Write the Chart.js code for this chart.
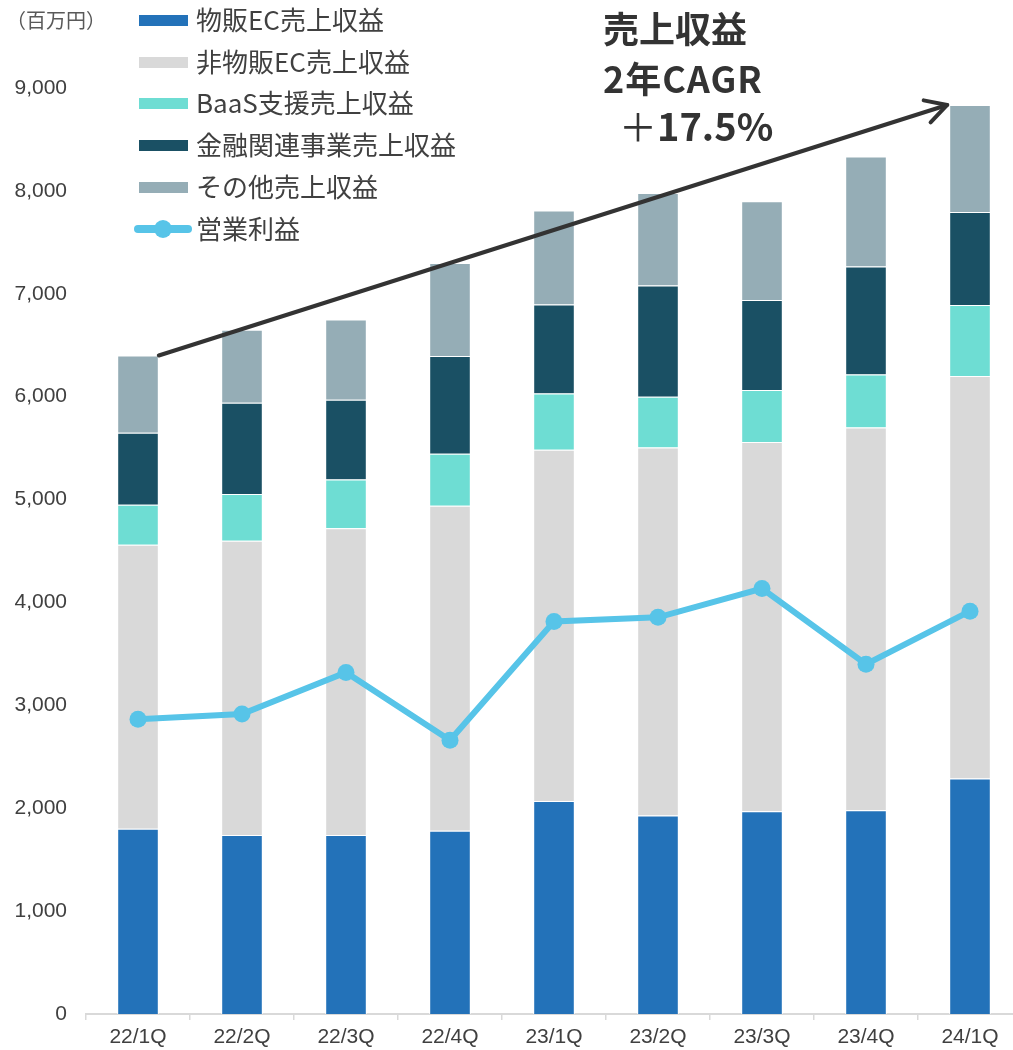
<!DOCTYPE html>
<html lang="ja">
<head>
    <meta charset="UTF-8">
    <title>売上収益・営業利益推移</title>
    <script src="https://cdn.jsdelivr.net/npm/chart.js"></script>
    <style>
        html, body {
            margin: 0;
            padding: 0;
            background: #ffffff;
            overflow: hidden;
        }

        .wrap {
            position: relative;
            width: 1013px;
            height: 1050px;
            overflow: hidden;
        }

        #salesChart {
            position: absolute;
            left: 0;
            top: 0;
        }

        .unit {
            position: absolute;
            left: 6px;
            top: 6px;
            font-family: "Noto Sans CJK JP", sans-serif;
            font-size: 20px;
            line-height: 28px;
            color: #595959;
        }

        .legend {
            position: absolute;
            left: 134px;
            top: 0;
            font-family: "Noto Sans CJK JP", sans-serif;
            font-size: 26px;
            color: #404040;
        }

        .legend-row {
            position: absolute;
            left: 0;
            height: 32px;
            line-height: 32px;
            white-space: nowrap;
        }

        .legend-row .swatch {
            position: absolute;
            left: 5px;
            top: 11px;
            width: 49px;
            height: 11px;
        }

        .legend-row .label {
            position: absolute;
            left: 62px;
            top: -1px;
        }

        .legend-row .line-swatch {
            position: absolute;
            left: 0;
            top: 12px;
            width: 58px;
            height: 8px;
            border-radius: 4px;
            background: #57c4e8;
        }

        .legend-row .dot {
            position: absolute;
            left: 20px;
            top: 7px;
            width: 18px;
            height: 18px;
            border-radius: 50%;
            background: #57c4e8;
        }

        .note {
            position: absolute;
            left: 603px;
            top: 0;
            font-family: "Noto Sans CJK JP", sans-serif;
            font-weight: bold;
            color: #333333;
            white-space: nowrap;
        }

        .note div {
            position: absolute;
            left: 0;
        }
    </style>
</head>
<body>
<div class="wrap">
    <canvas id="salesChart" width="1040" height="1050"></canvas>

    <div class="unit">（百万円）</div>

    <div class="legend" id="legend"></div>

    <div class="note">
        <div style="top: 2px; font-size: 36px; line-height: 50px;">売上収益</div>
        <div style="top: 52px; font-size: 36px; line-height: 50px; letter-spacing: 1px;">2年CAGR</div>
        <div style="top: 97px; left: 16px; font-size: 38px; line-height: 56px;"><span style="font-weight: normal;">＋</span>17.5%</div>
    </div>
</div>

<script>
    // categories (quarters)
    const quarters = ['22/1Q', '22/2Q', '22/3Q', '22/4Q', '23/1Q', '23/2Q', '23/3Q', '23/4Q', '24/1Q'];

    // revenue segments (百万円)
    const goodsEC   = [1800, 1740, 1740, 1780, 2070, 1930, 1970, 1980, 2290];
    const nonGoodsEC = [2760, 2860, 2980, 3160, 3415, 3575, 3590, 3720, 3910];
    const baas      = [390, 455, 475, 505, 545, 495, 505, 515, 690];
    const finance   = [700, 885, 775, 950, 865, 1080, 875, 1050, 905];
    const others    = [750, 710, 780, 905, 915, 900, 960, 1070, 1040];

    // operating profit
    const opProfit  = [2865, 2915, 3320, 2660, 3815, 3855, 4135, 3400, 3915];

    const yTicksMax = 9000;
    const yTickStep = 1000;

    const segColors = {
        goodsEC: '#2372b9',
        nonGoodsEC: '#d9d9d9',
        baas: '#6eddd3',
        finance: '#1a5064',
        others: '#95adb6'
    };
    const lineColor = '#57c4e8';

    const totals = quarters.map((q, i) => goodsEC[i] + nonGoodsEC[i] + baas[i] + finance[i] + others[i]);

    // legend (drawn as html, stacked at top-left)
    const legendItems = [
        {label: '物販EC売上収益', color: segColors.goodsEC},
        {label: '非物販EC売上収益', color: segColors.nonGoodsEC},
        {label: 'BaaS支援売上収益', color: segColors.baas},
        {label: '金融関連事業売上収益', color: segColors.finance},
        {label: 'その他売上収益', color: segColors.others},
        {label: '営業利益', line: true}
    ];
    const legendEl = document.getElementById('legend');
    legendItems.forEach((item, i) => {
        const row = document.createElement('div');
        row.className = 'legend-row';
        row.style.top = (4 + i * 41.7) + 'px';
        if (item.line) {
            row.innerHTML = '<span class="line-swatch"></span><span class="dot"></span>';
        } else {
            row.innerHTML = `<span class="swatch" style="background:${item.color}"></span>`;
        }
        row.innerHTML += `<span class="label">${item.label}</span>`;
        legendEl.appendChild(row);
    });

    // growth arrow from first bar top to last bar top
    const arrowPlugin = {
        id: 'growthArrow',
        afterDatasetsDraw(chart) {
            const {ctx, scales} = chart;
            const meta = chart.getDatasetMeta(4);
            const first = meta.data[0];
            const last = meta.data[meta.data.length - 1];
            const x1 = first.x + first.width / 2;
            const y1 = scales.y.getPixelForValue(totals[0]);
            const x2 = last.x - last.width / 2 - 2;
            const y2 = scales.y.getPixelForValue(totals[totals.length - 1]);
            const ang = Math.atan2(y2 - y1, x2 - x1);
            const head = 24;
            const spread = 0.5;

            ctx.save();
            ctx.strokeStyle = '#333333';
            ctx.lineWidth = 4;
            ctx.lineCap = 'round';
            ctx.lineJoin = 'round';
            ctx.beginPath();
            ctx.moveTo(x1, y1);
            ctx.lineTo(x2, y2);
            ctx.stroke();
            ctx.beginPath();
            ctx.moveTo(x2 - head * Math.cos(ang - spread), y2 - head * Math.sin(ang - spread));
            ctx.lineTo(x2, y2);
            ctx.lineTo(x2 - head * Math.cos(ang + spread), y2 - head * Math.sin(ang + spread));
            ctx.stroke();
            ctx.restore();
        }
    };

    function barSet(label, data, color) {
        return {
            type: 'bar',
            label: label,
            data: data,
            backgroundColor: color,
            borderColor: '#ffffff',
            borderWidth: 1,
            stack: 'revenue',
            order: 1,
            categoryPercentage: 1.0,
            barPercentage: 0.4
        };
    }

    const tickFont = {family: '"Liberation Sans", Arial, sans-serif', size: 21};

    new Chart(document.getElementById('salesChart'), {
        data: {
            labels: quarters,
            datasets: [
                barSet('物販EC売上収益', goodsEC, segColors.goodsEC),
                barSet('非物販EC売上収益', nonGoodsEC, segColors.nonGoodsEC),
                barSet('BaaS支援売上収益', baas, segColors.baas),
                barSet('金融関連事業売上収益', finance, segColors.finance),
                barSet('その他売上収益', others, segColors.others),
                {
                    type: 'line',
                    label: '営業利益',
                    data: opProfit,
                    borderColor: lineColor,
                    backgroundColor: lineColor,
                    borderWidth: 6,
                    pointRadius: 8.5,
                    pointBorderWidth: 0,
                    pointBackgroundColor: lineColor,
                    tension: 0,
                    stack: 'profit',
                    order: 0
                }
            ]
        },
        options: {
            responsive: false,
            animation: false,
            layout: {padding: {top: 88, right: 18, left: 0, bottom: 0}},
            plugins: {
                legend: {display: false},
                tooltip: {enabled: false}
            },
            scales: {
                x: {
                    stacked: true,
                    afterFit: (scale) => { scale.height = 36; },
                    grid: {
                        display: true,
                        offset: true,
                        drawOnChartArea: false,
                        drawTicks: true,
                        tickLength: 6,
                        color: '#d9d9d9',
                        lineWidth: 1.5
                    },
                    border: {display: true, color: '#d9d9d9', width: 2},
                    ticks: {color: '#404040', font: tickFont, padding: 5, maxRotation: 0}
                },
                y: {
                    stacked: true,
                    min: 0,
                    max: yTicksMax,
                    afterFit: (scale) => { scale.width = 86; },
                    grid: {display: false, drawTicks: false},
                    border: {display: false},
                    ticks: {
                        stepSize: yTickStep,
                        color: '#404040',
                        font: tickFont,
                        padding: 19,
                        callback: (v) => v.toLocaleString('en-US')
                    }
                }
            }
        },
        plugins: [arrowPlugin]
    });
</script>
</body>
</html>
